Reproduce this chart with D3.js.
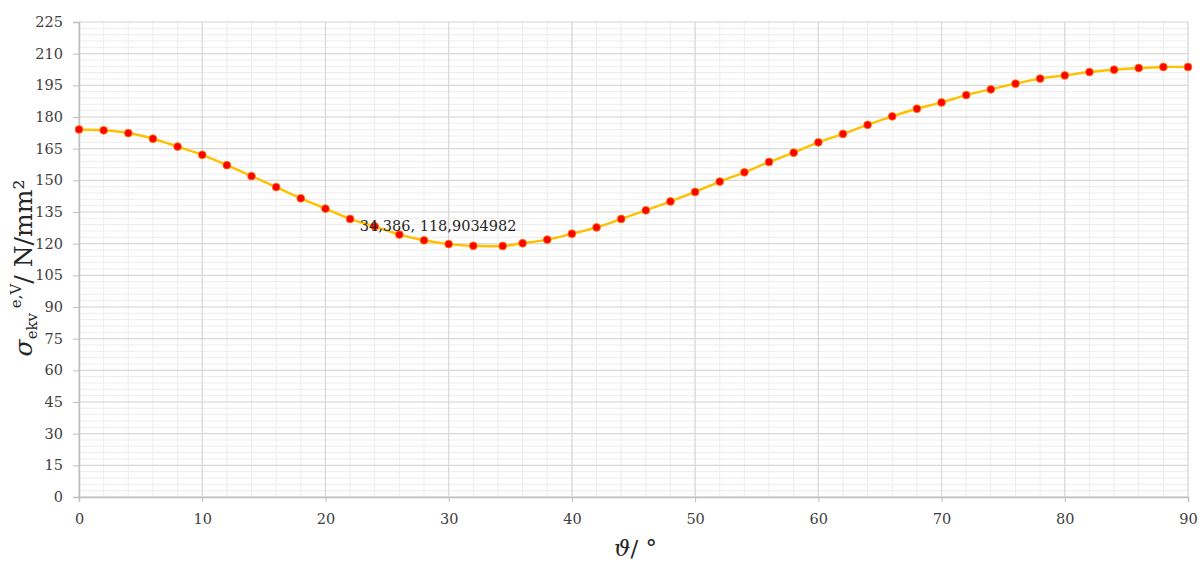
<!DOCTYPE html>
<html><head><meta charset="utf-8">
<script src="https://cdn.jsdelivr.net/npm/d3@7"></script>
<style>
body{margin:0;background:#fff;}
svg{display:block;}
</style></head>
<body><svg id="c" width="1199" height="563"></svg>
<script>
const angles = [0,2,4,6,8,10,12,14,16,18,20,22,24,26,28,30,32,34.386,36,38,40,42,44,46,48,50,52,54,56,58,60,62,64,66,68,70,72,74,76,78,80,82,84,86,88,90];
const stress = [174.1,173.7,172.4,169.7,166.0,162.1,157.2,152.0,146.8,141.5,136.6,131.7,128.2,124.3,121.6,119.8,119.0,118.9034982,120.2,121.9,124.7,127.7,131.7,135.8,140.0,144.5,149.4,153.8,158.7,163.1,168.0,172.0,176.3,180.3,183.9,186.9,190.4,193.1,195.8,198.2,199.7,201.3,202.4,203.2,203.7,203.7];
const xTicks = [0,10,20,30,40,50,60,70,80,90];
const yTicks = [0,15,30,45,60,75,90,105,120,135,150,165,180,195,210,225];
const annotation = {x:34.386, y:118.9034982, text:"34,386, 118,9034982"};

const svg = d3.select("#c");
const L=79, R=1188, T=22, B=497;
const x = d3.scaleLinear().domain([0,90]).range([L,R]);
const y = d3.scaleLinear().domain([0,225]).range([B,T]);
const font = "'DejaVu Serif', serif";

// minor grid
const g = svg.append("g");
g.selectAll("line.mx").data(d3.range(0,91,2)).join("line")
  .attr("x1",d=>x(d)).attr("x2",d=>x(d)).attr("y1",T).attr("y2",B)
  .attr("stroke","#ededed").attr("stroke-width",1);
g.selectAll("line.my").data(d3.range(0,226,3)).join("line")
  .attr("x1",L).attr("x2",R).attr("y1",d=>y(d)).attr("y2",d=>y(d))
  .attr("stroke","#ededed").attr("stroke-width",1);
// major grid
g.selectAll("line.Mx").data(xTicks).join("line")
  .attr("x1",d=>x(d)).attr("x2",d=>x(d)).attr("y1",T).attr("y2",B)
  .attr("stroke","#d9d9d9").attr("stroke-width",1.2);
g.selectAll("line.My").data(yTicks).join("line")
  .attr("x1",L).attr("x2",R).attr("y1",d=>y(d)).attr("y2",d=>y(d))
  .attr("stroke","#d9d9d9").attr("stroke-width",1.2);

// axes
const xAxis = svg.append("g").attr("transform",`translate(0,${B})`)
  .call(d3.axisBottom(x).tickValues(xTicks).tickSize(5).tickPadding(12).tickFormat(d3.format("d")));
const yAxis = svg.append("g").attr("transform",`translate(${L},0)`)
  .call(d3.axisLeft(y).tickValues(yTicks).tickSize(6).tickPadding(10).tickFormat(d3.format("d")));
[xAxis,yAxis].forEach(a=>{
  a.select(".domain").attr("stroke","#bfbfbf").attr("stroke-width",1.5);
  a.selectAll(".tick line").attr("stroke","#bfbfbf");
  a.selectAll(".tick text").attr("font-family",font).attr("font-size",14.5).attr("fill","#404040");
});

// line
const line = d3.line().x((d,i)=>x(angles[i])).y(d=>y(d)).curve(d3.curveCatmullRom.alpha(0.5));
svg.append("path").datum(stress).attr("d",line)
  .attr("fill","none").attr("stroke","#ffc000").attr("stroke-width",2.4);
svg.selectAll("circle.p").data(stress).join("circle")
  .attr("cx",(d,i)=>x(angles[i])).attr("cy",d=>y(d)).attr("r",3.9)
  .attr("fill","#ff0000").attr("stroke","#ff8000").attr("stroke-width",0.8);

// annotation
svg.append("text").attr("x",x(annotation.x)-143).attr("y",y(annotation.y)-15)
  .attr("font-family",font).attr("font-size",14.5).attr("fill","#262626")
  .text(annotation.text);

// x title
const xt = svg.append("text").attr("x",(L+R)/2+2).attr("y",556).attr("text-anchor","middle")
  .attr("font-family",font).attr("font-size",23).attr("fill","#262626");
xt.append("tspan").attr("font-style","italic").text("ϑ");
xt.append("tspan").text("/ °");

// y title
const yt = svg.append("text").attr("transform",`translate(32,268) rotate(-90)`)
  .attr("text-anchor","middle").attr("font-family",font).attr("font-size",25).attr("fill","#262626");
yt.append("tspan").attr("font-style","italic").text("σ");
yt.append("tspan").attr("font-size",15).attr("dy",5).text("ekv");
yt.append("tspan").attr("font-size",15).attr("dy",-16).text(" e,V");
yt.append("tspan").attr("dy",11).text("/ N/mm²");
</script></body></html>
